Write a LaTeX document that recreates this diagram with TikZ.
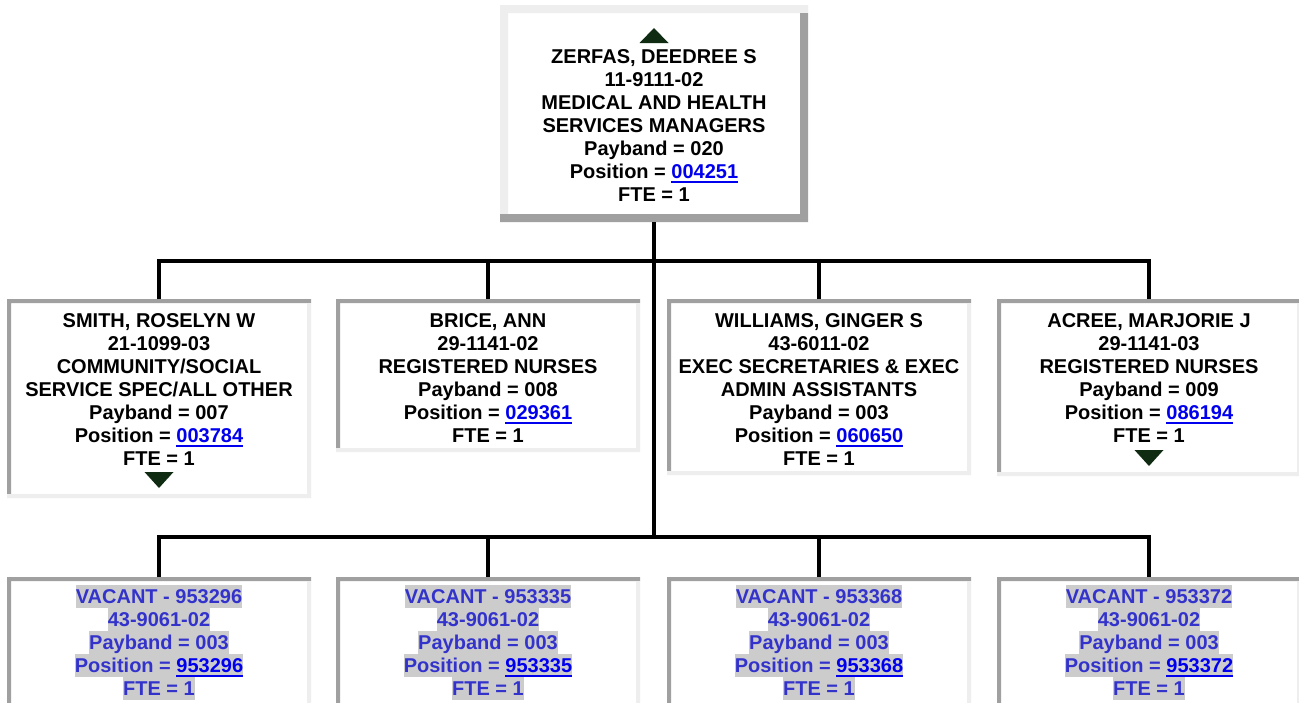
\documentclass[tikz,border=0pt]{standalone}
\usepackage{fontspec}
\setmainfont{Liberation Sans}
\usepackage{xcolor}
\usepackage{tikz}
\usetikzlibrary{positioning}
\definecolor{bevdark}{HTML}{A0A0A0}
\definecolor{bevlight}{HTML}{EEEEEE}
\definecolor{linkblue}{HTML}{0000EE}
\definecolor{vacblue}{HTML}{3333CC}
\definecolor{vachl}{HTML}{CCCCCC}
\definecolor{navgreen}{HTML}{0F2C12}
\newsavebox\lnkbox
\newcommand\lstrut{\rule[-5pt]{0pt}{23pt}}
\newcommand\poslink[1]{\sbox\lnkbox{\color{linkblue}#1}{\color{linkblue}\rlap{\rule[-4.5pt]{\wd\lnkbox}{2pt}}\usebox\lnkbox}}
\newcommand\vacline[1]{\colorbox{vachl}{\lstrut#1}}
\setlength\fboxsep{0pt}
\tikzset{
    every picture/.style={line join=miter},
    orgbox/.style={rectangle,fill=white,inner sep=0pt,outer sep=0pt,anchor=north,
      minimum width=304pt},
    topbox/.style={orgbox,minimum width=308pt,minimum height=217pt},
    cardtext/.style={inner sep=0pt,outer sep=0pt,anchor=north,align=center,
      font=\bfseries\fontsize{20}{23}\selectfont},
    vactext/.style={cardtext,text=vacblue},
    orgline/.style={draw=black,line width=4pt},
    navtri/.style={fill=navgreen}
}

\begin{document}
\begin{tikzpicture}[x=1pt,y=-1pt]
  \clip (0,0) rectangle (1299,702);
  \fill[white] (0,0) rectangle (1299,702);
  \node[topbox] (zerfas) at (654,5) {};
  \foreach \n/\x/\h in {smith/159/199,brice/488/153,williams/819/176,acree/1149/177}
    \node[orgbox,minimum height=\h pt] (\n) at (\x,299) {};
  \foreach \n/\x in {vac1/159,vac2/488,vac3/819,vac4/1149}
    \node[orgbox,minimum height=140pt] (\n) at (\x,577) {};

  \fill[bevlight] (zerfas.north west) rectangle ([shift={(0,8)}]zerfas.north east)
    ([shift={(0,8)}]zerfas.north west) rectangle ([shift={(8,-8)}]zerfas.south west);
  \fill[bevdark] ([shift={(0,-8)}]zerfas.south west) rectangle (zerfas.south east)
    ([shift={(-8,8)}]zerfas.north east) rectangle ([shift={(0,-8)}]zerfas.south east);
  \foreach \b in {smith,brice,williams,acree,vac1,vac2,vac3,vac4} {
    \fill[bevdark] (\b.north west) rectangle ([shift={(0,4)}]\b.north east)
      ([shift={(0,4)}]\b.north west) rectangle ([shift={(4,-4)}]\b.south west);
    \fill[bevlight] ([shift={(0,-4)}]\b.south west) rectangle (\b.south east)
      ([shift={(-4,4)}]\b.north east) rectangle ([shift={(0,-4)}]\b.south east);
  }

  \coordinate (bus1) at (654,261);
  \coordinate (bus2) at (654,537);
  \draw[orgline] (zerfas.south) -- (bus2);
  \draw[orgline] (smith.north) |- (bus1) -| (acree.north);
  \draw[orgline] (brice.north) -- (brice.north |- bus1);
  \draw[orgline] (williams.north) -- (williams.north |- bus1);
  \draw[orgline] (vac1.north) |- (bus2) -| (vac4.north);
  \draw[orgline] (vac2.north) -- (vac2.north |- bus2);
  \draw[orgline] (vac3.north) -- (vac3.north |- bus2);

  \node[cardtext,below=40pt of zerfas.north] (zerfas-t)
    {\lstrut ZERFAS, DEEDREE S\\11-9111-02\\MEDICAL AND HEALTH\\SERVICES MANAGERS\\
     Payband = 020\\Position = \poslink{004251}\\FTE = 1};
  \node[cardtext,below=10pt of smith.north] (smith-t)
    {\lstrut SMITH, ROSELYN W\\21-1099-03\\COMMUNITY/SOCIAL\\SERVICE SPEC/ALL OTHER\\
     Payband = 007\\Position = \poslink{003784}\\FTE = 1};
  \node[cardtext,below=10pt of brice.north] (brice-t)
    {\lstrut BRICE, ANN\\29-1141-02\\REGISTERED NURSES\\
     Payband = 008\\Position = \poslink{029361}\\FTE = 1};
  \node[cardtext,below=10pt of williams.north] (williams-t)
    {\lstrut WILLIAMS, GINGER S\\43-6011-02\\EXEC SECRETARIES \& EXEC\\ADMIN ASSISTANTS\\
     Payband = 003\\Position = \poslink{060650}\\FTE = 1};
  \node[cardtext,below=10pt of acree.north] (acree-t)
    {\lstrut ACREE, MARJORIE J\\29-1141-03\\REGISTERED NURSES\\
     Payband = 009\\Position = \poslink{086194}\\FTE = 1};
  \foreach \n/\num in {vac1/953296,vac2/953335,vac3/953368,vac4/953372}
    \node[vactext,below=8pt of \n.north] (\n-t)
      {\vacline{VACANT - \num}\\\vacline{43-9061-02}\\\vacline{Payband = 003}\\
       \vacline{Position = \poslink{\num}}\\\vacline{FTE = 1}};

  \fill[navtri] ([shift={(0,23)}]zerfas.north) -- ++(-14.5,15) -- ++(29,0) -- cycle;
  \foreach \b in {smith,acree}
    \fill[navtri] ([shift={(0,-10)}]\b.south) -- ++(-14.5,-16) -- ++(29,0) -- cycle;
\end{tikzpicture}
\end{document}
